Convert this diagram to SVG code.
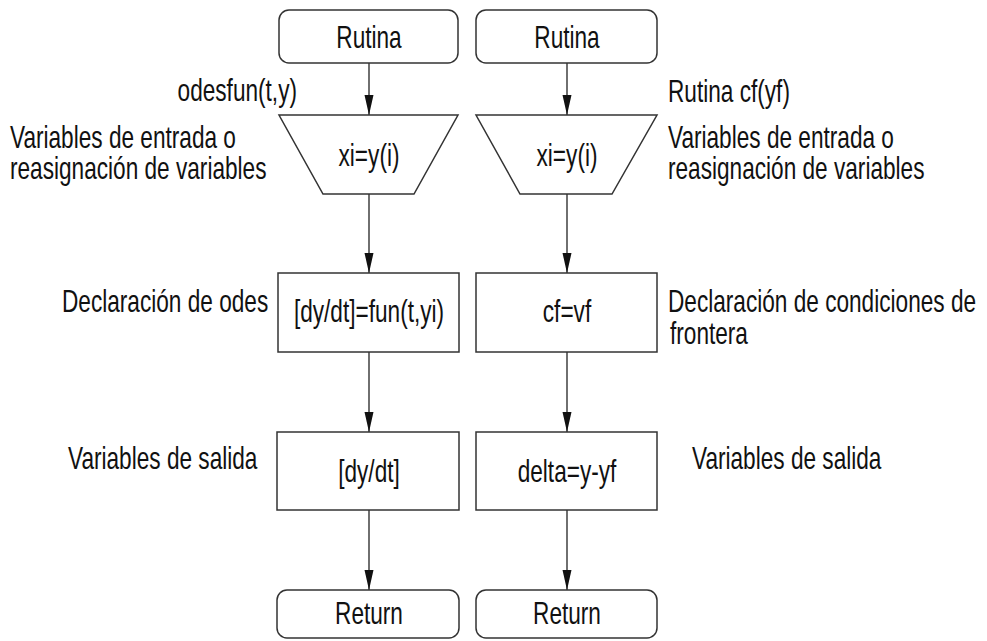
<svg xmlns="http://www.w3.org/2000/svg" width="987" height="641" viewBox="0 0 987 641">
<style>
.n{fill:#fff;stroke:#333;stroke-width:1.5}
.c{stroke:#222;stroke-width:1.3;fill:none}
text{font-family:"Liberation Sans",Arial,sans-serif;font-size:31px;fill:#111}
.m{text-anchor:middle}
.e{text-anchor:end}
</style>
<defs>
<marker id="ah" markerUnits="userSpaceOnUse" markerWidth="20" markerHeight="10" refX="20" refY="4.5" orient="auto">
<path d="M0,0 L20,4.5 L0,9 z" fill="#111"/>
</marker>
</defs>
<rect width="987" height="641" fill="#fff"/>
<g id="connectors">
<line class="c" x1="369" y1="63" x2="369" y2="115" marker-end="url(#ah)"/>
<line class="c" x1="369" y1="194" x2="369" y2="273" marker-end="url(#ah)"/>
<line class="c" x1="369" y1="352" x2="369" y2="432" marker-end="url(#ah)"/>
<line class="c" x1="369" y1="510" x2="369" y2="590" marker-end="url(#ah)"/>
<line class="c" x1="567" y1="63" x2="567" y2="115" marker-end="url(#ah)"/>
<line class="c" x1="567" y1="194" x2="567" y2="273" marker-end="url(#ah)"/>
<line class="c" x1="567" y1="352" x2="567" y2="432" marker-end="url(#ah)"/>
<line class="c" x1="567" y1="510" x2="567" y2="590" marker-end="url(#ah)"/>
</g>
<g id="rutina1"><rect class="n" x="279" y="10" width="179" height="53" rx="10"/><text class="m" transform="translate(369,48) scale(0.73,1)">Rutina</text></g>
<g id="rutina2"><rect class="n" x="476" y="10" width="181" height="53" rx="10"/><text class="m" transform="translate(567,48) scale(0.73,1)">Rutina</text></g>
<g id="input1"><polygon class="n" points="279,115 458,115 414,194 323,194"/><text class="m" transform="translate(369,166) scale(0.73,1)">xi=y(i)</text></g>
<g id="input2"><polygon class="n" points="476,115 657,115 612,194 520,194"/><text class="m" transform="translate(567,166) scale(0.73,1)">xi=y(i)</text></g>
<g id="odes"><rect class="n" x="278" y="273" width="181" height="79"/><text class="m" transform="translate(369,322) scale(0.73,1)">[dy/dt]=fun(t,yi)</text></g>
<g id="cf"><rect class="n" x="476" y="273" width="181" height="79"/><text class="m" transform="translate(567,322) scale(0.73,1)">cf=vf</text></g>
<g id="out1"><rect class="n" x="277" y="432" width="182" height="78"/><text class="m" transform="translate(369,482) scale(0.73,1)">[dy/dt]</text></g>
<g id="out2"><rect class="n" x="476" y="432" width="181" height="78"/><text class="m" transform="translate(567,482) scale(0.73,1)">delta=y-yf</text></g>
<g id="return1"><rect class="n" x="277" y="590" width="182" height="48" rx="10"/><text class="m" transform="translate(369,624) scale(0.73,1)">Return</text></g>
<g id="return2"><rect class="n" x="476" y="590" width="181" height="48" rx="10"/><text class="m" transform="translate(567,624) scale(0.73,1)">Return</text></g>
<g id="labels">
<text class="e" transform="translate(297,101) scale(0.73,1)">odesfun(t,y)</text>
<text transform="translate(10,148) scale(0.73,1)">Variables de entrada o</text>
<text transform="translate(10,179) scale(0.73,1)">reasignación de variables</text>
<text transform="translate(62,312) scale(0.73,1)">Declaración de odes</text>
<text transform="translate(68,469) scale(0.73,1)">Variables de salida</text>
<text transform="translate(668,102) scale(0.73,1)">Rutina cf(yf)</text>
<text transform="translate(668,148) scale(0.73,1)">Variables de entrada o</text>
<text transform="translate(668,179) scale(0.73,1)">reasignación de variables</text>
<text transform="translate(668,312) scale(0.73,1)">Declaración de condiciones de</text>
<text transform="translate(670,344) scale(0.73,1)">frontera</text>
<text transform="translate(692,469) scale(0.73,1)">Variables de salida</text>
</g>
</svg>
